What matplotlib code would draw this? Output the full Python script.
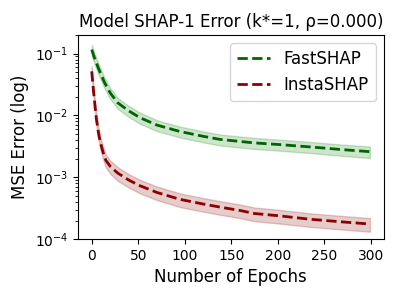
import numpy as np
import matplotlib
matplotlib.use('Agg')
import matplotlib.pyplot as plt

# values (epoch, mean MSE, std)
fast_epochs = [0, 3, 7, 10, 14, 20, 28, 40, 52, 70, 95, 120, 138, 175, 200,
               235, 270, 299]
fast_mean = [0.116, 0.085, 0.059, 0.046, 0.0335, 0.023, 0.016, 0.0118, 0.0092,
             0.0070, 0.0055, 0.0046, 0.0041, 0.0036, 0.0034, 0.0031, 0.0028,
             0.0026]
fast_std = [0.022, 0.017, 0.012, 0.0092, 0.0067, 0.0046, 0.0032, 0.0024,
            0.0019, 0.0014, 0.0011, 0.00093, 0.00083, 0.00073, 0.00069,
            0.00063, 0.00058, 0.00055]

insta_epochs = [0, 1, 2, 3, 5, 7, 9, 12, 15, 20, 28, 40, 52, 70, 95, 120, 138,
                160, 175, 200, 235, 270, 299]
insta_mean = [0.0517, 0.035, 0.024, 0.017, 0.0088, 0.0055, 0.0038, 0.0026,
              0.0019, 0.0015, 0.00117, 0.00090, 0.00073, 0.00057, 0.00044,
              0.00037, 0.00033, 0.00029, 0.00026, 0.00024, 0.00021, 0.00019,
              0.000176]
insta_std = [0.010, 0.007, 0.005, 0.0035, 0.0019, 0.0012, 0.00085, 0.00060,
             0.00045, 0.00036, 0.00029, 0.00022, 0.00018, 0.00014, 0.00011,
             0.000092, 0.000082, 0.000072, 0.000065, 0.000060, 0.000052,
             0.000047, 0.000044]

fast_mean = np.array(fast_mean)
fast_std = np.array(fast_std)
insta_mean = np.array(insta_mean)
insta_std = np.array(insta_std)

fig, ax = plt.subplots(figsize=(3.99, 2.99), dpi=100)
fig.subplots_adjust(left=0.195, right=0.962, top=0.883, bottom=0.2)

ax.plot(fast_epochs, fast_mean, '--', color='darkgreen', lw=2, label='FastSHAP')
ax.fill_between(fast_epochs, fast_mean - fast_std, fast_mean + fast_std,
                color='green', alpha=0.2)
ax.plot(insta_epochs, insta_mean, '--', color='darkred', lw=2, label='InstaSHAP')
ax.fill_between(insta_epochs, insta_mean - insta_std, insta_mean + insta_std,
                color='darkred', alpha=0.2)

ax.set_yscale('log')
ax.set_ylim(1e-4, 0.2)
ax.set_xticks([0, 50, 100, 150, 200, 250, 300])
ax.tick_params(axis='both', labelsize=10)
ax.set_title('Model SHAP-1 Error (k*=1, ρ=0.000)', fontsize=12)
ax.set_xlabel('Number of Epochs', fontsize=12)
ax.set_ylabel('MSE Error (log)', fontsize=12)
ax.legend(loc='upper right', fontsize=12)

fig.savefig('out.png', dpi=100)
